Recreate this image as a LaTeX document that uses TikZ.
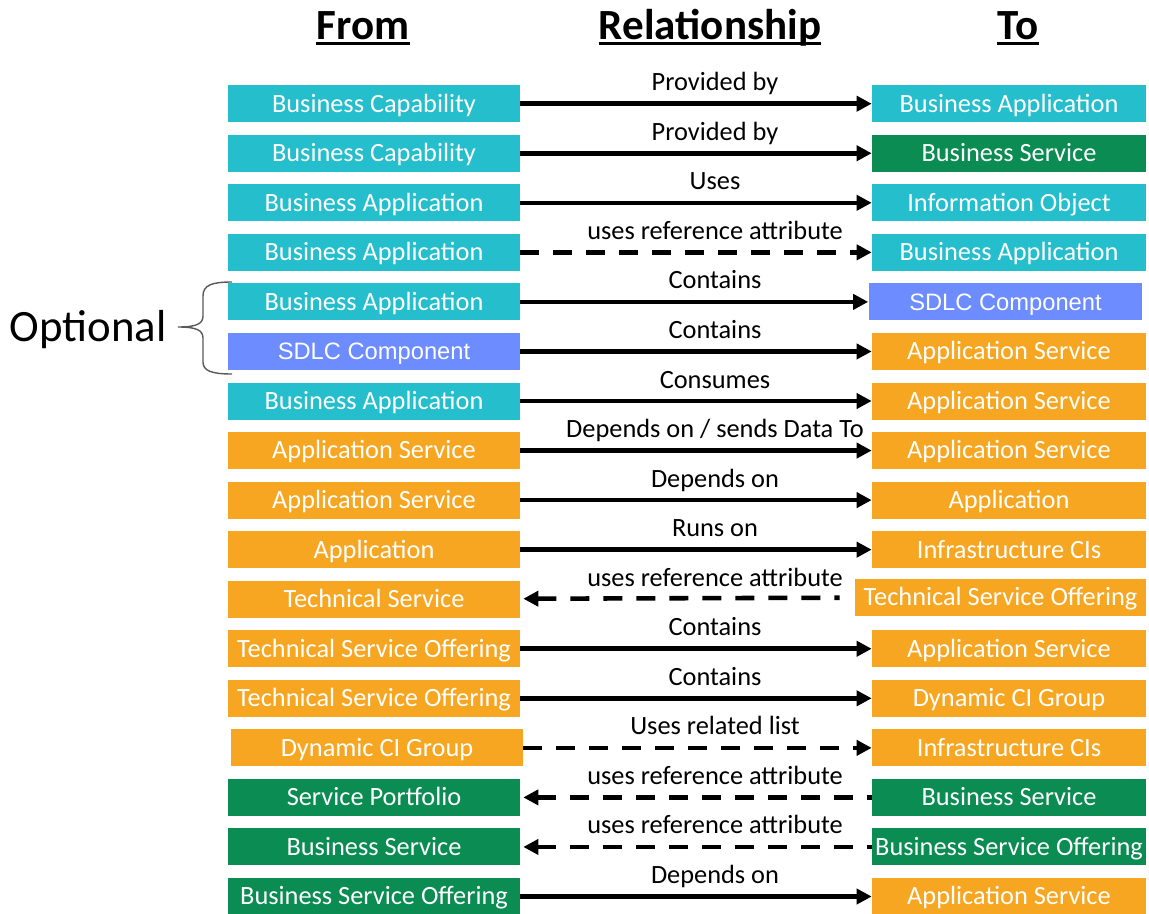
\documentclass[tikz,border=0pt]{standalone}
\usepackage{fontspec}
\setmainfont{Carlito}
\newfontfamily\sdlcfont{Liberation Sans}
\usetikzlibrary{arrows.meta}
\definecolor{relTeal}{RGB}{36,190,204}
\definecolor{relGreen}{RGB}{10,140,82}
\definecolor{relOrange}{RGB}{247,166,33}
\definecolor{relBlue}{RGB}{108,140,255}
\tikzset{
  rbox/.style={rectangle, inner sep=0pt, text=white, text height=10.5pt, text depth=1pt,
               minimum height=0.74cm, font=\fontsize{15}{18}\selectfont},
  rfrom/.style={rbox, minimum width=5.84cm},
  rto/.style  ={rbox, minimum width=5.48cm},
  bteal/.style  ={fill=relTeal},
  bgreen/.style ={fill=relGreen},
  borange/.style={fill=relOrange},
  bsdlc/.style  ={fill=relBlue, font=\sdlcfont\fontsize{13.5}{16}\selectfont},
  bsdlcto/.style={bsdlc, xshift=-0.07cm},
  bdyn/.style   ={borange, xshift=0.06cm},
  btso/.style   ={borange, minimum width=5.82cm, xshift=-0.17cm, yshift=0.04cm},
  rarr/.style ={-{Triangle[length=0.3cm, width=0.3cm]}, line width=2.6pt, black},
  rdash/.style={rarr, dash pattern=on 0.38cm off 0.28cm},
  rback/.style={{Triangle[length=0.3cm, width=0.3cm]}-, line width=2.6pt, black,
                dash pattern=on 0.38cm off 0.28cm, shorten <=0.06cm},
  rbacktso/.style={rback, shorten >=0.3cm},
  rlabel/.style={anchor=base, font=\fontsize{15}{18}\selectfont},
  hdr/.style={anchor=base, inner sep=0pt, font=\fontsize{24.5}{29}\selectfont\bfseries},
  ulrule/.style={line width=1.7pt},
  brc/.style={line width=0.8pt, black!65},
}
\begin{document}
\begin{tikzpicture}[x=0.02cm, y=-0.02cm]
\useasboundingbox (0,0) rectangle (1149,913);
% column heads
\node[hdr] (hfrom) at (363,39) {From};
\node[hdr] (hrel) at (710,39) {Relationship};
\node[hdr] (hto) at (1018,39) {To};
\foreach \h in {hfrom,hrel,hto}
  \draw[ulrule] ([yshift=-2.8pt]\h.base west) -- ([yshift=-2.8pt]\h.base east);
% optional bracket
\node[anchor=base, font=\fontsize{25.5}{30}\selectfont] (opt) at (88,341) {Optional};
\draw[brc] (232,282) .. controls (212,282) and (203,285) .. (203,296) -- (203,316)
  .. controls (203,324) and (196,327) .. (178,327)
  .. controls (196,327) and (203,330) .. (203,338) -- (203,362)
  .. controls (203,371) and (212,374) .. (232,374);
% rows
\foreach \a/\as/\r/\b/\bs/\ar [count=\i] in {
  Business Capability/bteal/Provided by/Business Application/bteal/rarr,
  Business Capability/bteal/Provided by/Business Service/bgreen/rarr,
  Business Application/bteal/Uses/Information Object/bteal/rarr,
  Business Application/bteal/uses reference attribute/Business Application/bteal/rdash,
  Business Application/bteal/Contains/SDLC Component/bsdlcto/rarr,
  SDLC Component/bsdlc/Contains/Application Service/borange/rarr,
  Business Application/bteal/Consumes/Application Service/borange/rarr,
  Application Service/borange/{Depends on / sends Data To}/Application Service/borange/rarr,
  Application Service/borange/Depends on/Application/borange/rarr,
  Application/borange/Runs on/Infrastructure CIs/borange/rarr,
  Technical Service/borange/uses reference attribute/Technical Service Offering/btso/rbacktso,
  Technical Service Offering/borange/Contains/Application Service/borange/rarr,
  Technical Service Offering/borange/Contains/Dynamic CI Group/borange/rarr,
  Dynamic CI Group/bdyn/Uses related list/Infrastructure CIs/borange/rdash,
  Service Portfolio/bgreen/uses reference attribute/Business Service/bgreen/rback,
  Business Service/bgreen/uses reference attribute/Business Service Offering/bgreen/rback,
  Business Service Offering/bgreen/Depends on/Application Service/borange/rarr}{
  \pgfmathsetmacro{\y}{54.15+49.55*\i}
  \node[rfrom, \as] (f\i) at (374,\y) {\a};
  \node[rto, \bs] (t\i) at (1009,\y) {\b};
  \draw[\ar] (f\i) -- (t\i);
  \node[rlabel] (l\i) at (715,\y-13) {\r};
}
\end{tikzpicture}
\end{document}
